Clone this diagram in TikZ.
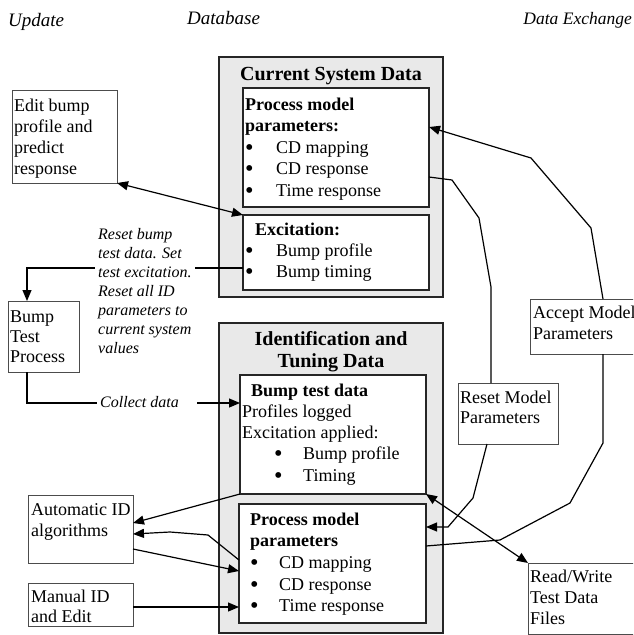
\documentclass[tikz,border=0pt]{standalone}
\usepackage{fontspec}
\setmainfont{Liberation Serif}
\usetikzlibrary{arrows.meta,fit}
\definecolor{dbgray}{RGB}{233,233,233}
\newcommand\bul[1]{\makebox[#1][l]{\raisebox{-2pt}{\scalebox{1.35}{\textbullet}}}}
\begin{document}
\begin{tikzpicture}[x=1pt,y=-1pt,
  dbox/.style={draw=black!85, line width=1.5pt, fill=dbgray, inner sep=0pt, outer sep=0pt},
  ibox/.style={draw=black!85, line width=1.4pt, fill=white, inner sep=0pt, outer sep=0pt},
  pbox/.style={draw=black!70, line width=0.9pt, fill=white, inner sep=0pt, outer sep=0pt},
  txt/.style={anchor=base west, inner sep=0pt, align=left, font=\fontsize{18}{21.3}\selectfont},
  ttl/.style={anchor=base, inner sep=0pt, align=center, font=\fontsize{20}{22.5}\selectfont\bfseries},
  hdr/.style={anchor=base west, inner sep=0pt, font=\fontsize{19}{22}\selectfont\itshape},
  note/.style={anchor=base west, inner sep=0pt, align=left, fill=white, font=\fontsize{16}{19}\selectfont\itshape},
  conn/.style={line width=1.2pt, black},
  arr/.style={conn, -{Triangle[length=11pt,width=9pt]}},
  dbl/.style={conn, {Triangle[length=11pt,width=9pt]}-{Triangle[length=11pt,width=9pt]}}
]
\path[use as bounding box] (0,0) rectangle (633,635);
\clip (0,0) rectangle (633,635);

% headers
\node[hdr] (hupd) at (8,26) {Update};
\node[hdr] (hdb) at (187,24) {Database};
\node[hdr, anchor=base east, font=\fontsize{17.5}{21}\selectfont\itshape] (hdx) at (632,24) {Data Exchange};

% database boxes
\node[dbox, fit={(219,57) (443,297)}] (db1) {};
\node[ibox, fit={(243,88) (429,207)}] (pm1) {};
\node[ibox, fit={(243,215) (429,290)}] (exc) {};
\node[dbox, fit={(219,323) (443,633)}] (db2) {};
\node[ibox, fit={(240,375) (426,494)}] (bdata) {};
\node[ibox, fit={(239,504) (426,623)}] (pm2) {};

% (multi-line nodes: base anchor = baseline of last line)
\node[ttl] (t1) at (331,80) {Current System Data};
\node[txt, font=\fontsize{18}{21.5}\selectfont] (pm1t) at (245,196) {\textbf{Process model}\\\textbf{parameters:}\\\bul{31pt}CD mapping\\\bul{31pt}CD response\\\bul{31pt}Time response};
\node[txt] (exct) at (245,277.6) {\hspace{10pt}\textbf{Excitation:}\\\bul{31pt}Bump profile\\\bul{31pt}Bump timing};

\node[ttl] (t2) at (331,367.5) {Identification and\\Tuning Data};
\node[txt] (bdt) at (242,481.2) {\hspace{9pt}\textbf{Bump test data}\\Profiles logged\\Excitation applied:\\\hspace{32pt}\bul{29pt}Bump profile\\\hspace{32pt}\bul{29pt}Timing};
\node[txt, font=\fontsize{18}{21.7}\selectfont] (pm2t) at (250,611.8) {\textbf{Process model}\\\textbf{parameters}\\\bul{29pt}CD mapping\\\bul{29pt}CD response\\\bul{29pt}Time response};

% update side boxes
\node[pbox, fit={(12,90) (117,183)}] (edit) {};
\node[txt] (editt) at (14,174.9) {Edit bump\\profile and\\predict\\response};
\node[pbox, fit={(8,301) (79,372)}] (bump) {};
\node[txt, font=\fontsize{18}{20.3}\selectfont] (bumpt) at (10,362.6) {Bump\\Test\\Process};
\node[pbox, fit={(28,495) (133,563)}] (auto) {};
\node[txt] (autot) at (31,536.3) {Automatic ID\\algorithms};
\node[pbox, fit={(28,583) (133,626)}] (man) {};
\node[txt, font=\fontsize{18}{20}\selectfont] (mant) at (31,622) {Manual ID\\and Edit};

% data exchange boxes
\node[pbox, fit={(530,299) (645,354)}] (accept) {};
\node[txt] (acceptt) at (533,339.3) {Accept Model\\Parameters};
\node[pbox, fit={(458,383) (558,444)}] (reset) {};
\node[txt, font=\fontsize{18}{20}\selectfont] (resett) at (460,423) {Reset Model\\Parameters};
\node[pbox, fit={(528,563) (645,634)}] (rw) {};
\node[txt] (rwt) at (530,624.6) {Read/Write\\Test Data\\Files};

% connectors
\draw[dbl] (edit.south east) -- (exc.north west);
\draw[arr] (exc.west |- 0,268) -- (27,268) -- (bump.north -| 27,0);
\node[note, inner xsep=3pt] (resetnote) at (95,353) {Reset bump\\test data. Set\\test excitation.\\Reset all ID\\parameters to\\current system\\values};

\coordinate (cd1) at (97,403);
\coordinate (cd2) at (197,403);
\draw[conn] (bump.south -| 27,0) -- (27,403) -- (cd1);
\node[note, fill=none] (collect) at (100,407) {Collect data};
\draw[arr] (cd2) -- (bdata.west |- 0,403);

\draw[arr] (bdata.south west) -- (auto.east |- 0,523);
\draw[arr] (pm2.west |- 0,560) -- (208,535) -- (170,532) -- (auto.east |- 0,534);
\draw[arr] (auto.east |- 0,549) -- (pm2.west |- 0,571);
\draw[arr] (man.east |- 0,607) -- (pm2.west |- 0,607);

\draw[arr] (accept.north -| 603,0) -- (591,228) -- (531,158) -- (pm1.east |- 0,127);
\draw[conn] (pm1.east |- 0,177) -- (452,180) -- (479,218) -- (491,287) -- (reset.north -| 491,0);
\draw[arr] (reset.south -| 487,0) -- (473,498) -- (448,527) -- (pm2.east |- 0,527);
\draw[conn] (accept.south -| 603,0) -- (603,443) -- (570,503) -- (500,540) -- (pm2.east |- 0,546);
\draw[dbl] (bdata.south east) -- (rw.north west);
\end{tikzpicture}
\end{document}
